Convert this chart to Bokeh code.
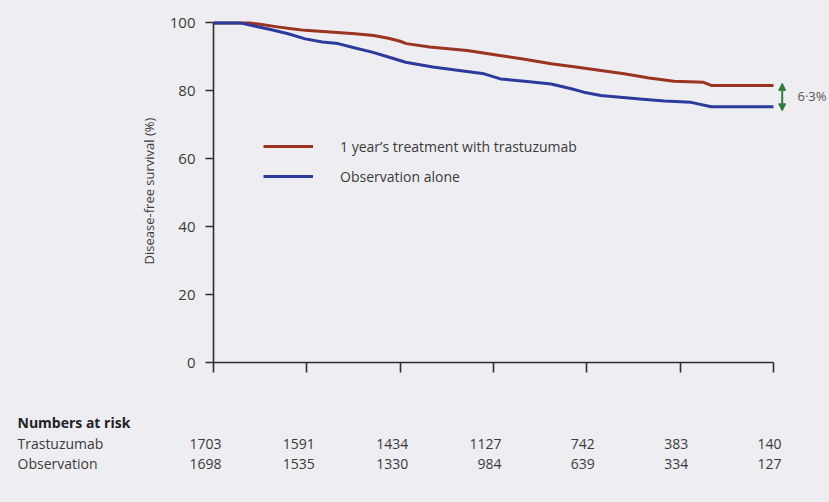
from bokeh.plotting import figure
from bokeh.layouts import column
from bokeh.models import (Range1d, FixedTicker, Legend, LegendItem, Label,
                          ColumnDataSource, Arrow, NormalHead)
from bokeh.core.properties import value
from bokeh.embed import file_html
from bokeh.resources import INLINE

# Kaplan-Meier disease-free survival (%), months since randomisation
trast_months = [0, 2.3, 3.0, 4.0, 5.0, 5.9, 7.5, 9.1, 10.3, 11.25, 12.0, 12.4, 13.9, 16.3,
                18.4, 20.0, 21.7, 23.3, 24.9, 26.4, 28.0, 29.6, 31.5, 32.0, 36.0]
trast_dfs = [100, 100, 99.6, 98.9, 98.3, 97.8, 97.3, 96.8, 96.3, 95.5, 94.6, 93.9, 92.9, 91.9,
             90.4, 89.3, 88.0, 87.0, 86.0, 85.0, 83.8, 82.8, 82.5, 81.6, 81.6]

obs_months = [0, 1.7, 2.7, 3.8, 4.8, 5.9, 7.0, 8.0, 9.1, 10.2, 11.3, 12.35, 14.1, 15.8, 17.4,
              18.45, 20.0, 21.7, 23.0, 23.8, 24.9, 27.4, 29.0, 30.7, 32.0, 36.0]
obs_dfs = [100, 100, 99.0, 97.9, 96.8, 95.3, 94.4, 93.9, 92.6, 91.4, 89.9, 88.4, 87.0, 86.0, 85.0,
           83.5, 82.8, 82.0, 80.6, 79.6, 78.6, 77.6, 77.0, 76.6, 75.3, 75.3]

# Numbers at risk
risk_months = [0, 6, 12, 18, 24, 30, 36]
risk_trast = [1703, 1591, 1434, 1127, 742, 383, 140]
risk_obs = [1698, 1535, 1330, 984, 639, 334, 127]

y_ticks = [0, 20, 40, 60, 80, 100]

FONT = "Open Sans"
BG = "#eeeef2"
TEXT = "#3a3a3a"
AXIS = "#2e2e2e"
RED = "#9a3320"
BLUE = "#2b3a9c"
GREEN = "#2f7d3c"

LEFT = 213
PX_PER_MONTH = 560 / 36.0
x_max = (829 - LEFT) / PX_PER_MONTH

# ---- survival panel ----
p = figure(width=829, height=380, output_backend="svg", toolbar_location=None,
           x_range=Range1d(0, x_max), y_range=Range1d(0, 101),
           min_border_left=LEFT, min_border_right=0, min_border_top=19, min_border_bottom=18,
           background_fill_color=BG, border_fill_color=BG, outline_line_color=None)
p.frame_align = False
p.grid.visible = False

p.yaxis.bounds = (0, 100)
p.yaxis.ticker = FixedTicker(ticks=y_ticks)
p.yaxis.minor_tick_line_color = None
p.yaxis.major_tick_in = 0
p.yaxis.major_tick_out = 8
p.yaxis.major_label_standoff = 10
p.yaxis.axis_label = "Disease-free survival (%)"
p.yaxis.axis_label_text_font = FONT
p.yaxis.axis_label_text_font_size = "13px"
p.yaxis.axis_label_text_font_style = "normal"
p.yaxis.axis_label_text_color = TEXT
p.yaxis.axis_label_standoff = 9
p.yaxis.major_label_text_font = FONT
p.yaxis.major_label_text_font_size = "15px"
p.yaxis.major_label_text_color = TEXT

p.xaxis.bounds = (0, 36)
p.xaxis.ticker = FixedTicker(ticks=risk_months)
p.xaxis.minor_tick_line_color = None
p.xaxis.major_tick_in = 0
p.xaxis.major_tick_out = 10
p.xaxis.major_label_overrides = {t: "" for t in risk_months}

for ax in (p.xaxis[0], p.yaxis[0]):
    ax.axis_line_color = AXIS
    ax.axis_line_width = 1.6
    ax.major_tick_line_color = AXIS
    ax.major_tick_line_width = 1.6

r_trast = p.line(trast_months, trast_dfs, line_color=RED, line_width=3, line_join="round")
r_obs = p.line(obs_months, obs_dfs, line_color=BLUE, line_width=3, line_join="round")

legend = Legend(items=[LegendItem(label="1 year\u2019s treatment with trastuzumab", renderers=[r_trast]),
                       LegendItem(label="Observation alone", renderers=[r_obs])],
                location=(50, 176), glyph_width=50, glyph_height=20, label_standoff=27,
                spacing=10, padding=0, margin=0, border_line_color=None,
                background_fill_alpha=0, label_text_font=FONT, label_text_font_size="14px",
                label_text_color=TEXT, label_height=20)
p.add_layout(legend)

# difference at the end of follow-up
red_end, blue_end = trast_dfs[-1], obs_dfs[-1]
gap = red_end - blue_end
mid = (red_end + blue_end) / 2
arrow_x = 36 + 8.7 / PX_PER_MONTH
for tip in (red_end + 0.6, blue_end - 1.2):
    p.add_layout(Arrow(x_start=arrow_x, y_start=mid, x_end=arrow_x, y_end=tip,
                       line_color=GREEN, line_width=2,
                       end=NormalHead(size=7, fill_color=GREEN, line_color=GREEN)))
p.add_layout(Label(x=36 + 24 / PX_PER_MONTH, y=mid,
                   text=f"{gap:.1f}".replace(".", "\u00b7") + "%",
                   text_font=FONT, text_font_size="13px", text_color="#555555",
                   text_baseline="middle"))

# ---- numbers-at-risk table (frame spans the full width) ----
t = figure(width=829, height=122, output_backend="svg", toolbar_location=None,
           x_range=Range1d(-LEFT / PX_PER_MONTH, x_max), y_range=Range1d(122, 0),
           x_axis_type=None, y_axis_type=None,
           min_border_left=0, min_border_right=0, min_border_top=0, min_border_bottom=0,
           background_fill_color=BG, border_fill_color=BG, outline_line_color=None)
t.frame_align = False
t.grid.visible = False

label_x = -196 / PX_PER_MONTH
row_title_y, row_trast_y, row_obs_y = 42, 63, 83
t.text(x=[label_x], y=[row_title_y], text=["Numbers at risk"], text_font=value(FONT),
       text_font_size="14px", text_font_style="bold", text_color="#222222",
       text_baseline="middle")
for name, counts, ry in (("Trastuzumab", risk_trast, row_trast_y),
                         ("Observation", risk_obs, row_obs_y)):
    t.text(x=[label_x], y=[ry], text=[name], text_font=value(FONT), text_font_size="14px",
           text_color=TEXT, text_baseline="middle")
    src = ColumnDataSource(dict(x=[m + 8 / PX_PER_MONTH for m in risk_months],
                                y=[ry] * len(counts), t=[str(c) for c in counts]))
    t.text(x="x", y="y", text="t", source=src, text_align="right", text_baseline="middle",
           text_font=value(FONT), text_font_size="14px", text_color=TEXT)

layout = column(p, t, spacing=0, styles={"background-color": BG})
open("out.html", "w").write(file_html(layout, INLINE))
